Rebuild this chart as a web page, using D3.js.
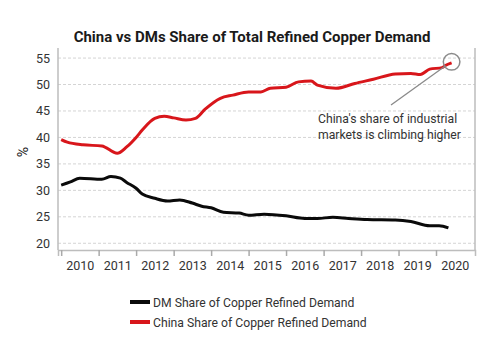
<!DOCTYPE html>
<html>
<head>
<meta charset="utf-8">
<script src="https://cdn.jsdelivr.net/npm/d3@7"></script>
<style>
  html, body { margin: 0; padding: 0; background: #fff; }
  svg { display: block; font-family: Roboto, "Noto Sans", sans-serif; }
</style>
</head>
<body>
<svg id="chart" width="500" height="343"></svg>
<script>
// ---- Data ----
const chinaDates = ["2010-01","2010-03","2010-08","2011-02","2011-07","2011-10","2012-01","2012-03","2012-07","2012-10","2013-01","2013-05","2013-08","2013-11","2014-04","2014-08","2015-01","2015-05","2015-08","2016-01","2016-05","2016-09","2016-11","2017-05","2017-11","2018-05","2018-12","2019-05","2019-08","2019-11","2020-03","2020-04","2020-06"];
const chinaValues = [39.6,39.1,38.6,38.4,37.0,38.2,40.0,41.4,43.6,44.0,43.7,43.3,43.6,45.3,47.4,48.0,48.6,48.6,49.3,49.5,50.5,50.65,49.9,49.3,50.2,51.0,52.0,52.1,51.9,52.9,53.2,53.6,54.1];

const dmDates = ["2010-01","2010-04","2010-07","2011-02","2011-05","2011-08","2011-10","2012-01","2012-03","2012-07","2012-11","2013-03","2013-07","2013-10","2014-01","2014-05","2014-10","2015-01","2015-06","2016-01","2016-07","2016-11","2017-04","2017-09","2018-03","2018-12","2019-05","2019-11","2020-02","2020-05"];
const dmValues = [31.0,31.6,32.3,32.1,32.6,32.3,31.5,30.4,29.3,28.5,28.0,28.2,27.6,27.0,26.7,25.85,25.7,25.3,25.5,25.2,24.7,24.7,24.9,24.7,24.5,24.4,24.1,23.3,23.3,22.9];

const yTicks = [20, 25, 30, 35, 40, 45, 50, 55];
const yearLabels = [2010, 2011, 2012, 2013, 2014, 2015, 2016, 2017, 2018, 2019, 2020];

const title = "China vs DMs Share of Total Refined Copper Demand";
const yLabel = "%";
const seriesNames = ["DM Share of Copper Refined Demand", "China Share of Copper Refined Demand"];
const annotationLines = ["China's share of industrial", "markets is climbing higher"];

// ---- Build ----
const parse = d3.timeParse("%Y-%m");
const china = chinaDates.map((d, i) => ({ date: parse(d), value: chinaValues[i] }));
const dm = dmDates.map((d, i) => ({ date: parse(d), value: dmValues[i] }));

const svg = d3.select("#chart");
const pLeft = 58, pRight = 475, pTop = 48, pBottom = 250;

const x = d3.scaleTime()
  .domain([new Date(2009, 11, 1), new Date(2021, 0, 15)])
  .range([pLeft, pRight]);
const y = d3.scaleLinear().domain([18.73, 56.9]).range([pBottom, pTop]);

// Title
svg.append("text")
  .attr("x", 252).attr("y", 41.5)
  .attr("text-anchor", "middle")
  .attr("font-size", 15).attr("font-weight", 700)
  .attr("fill", "#1a1a1a")
  .text(title);

// Gridlines
svg.append("g").selectAll("line").data(yTicks).join("line")
  .attr("x1", pLeft).attr("x2", pRight)
  .attr("y1", d => y(d)).attr("y2", d => y(d))
  .attr("stroke", "#d4d4d4").attr("stroke-width", 1)
  .attr("stroke-dasharray", "3,2");

// Y axis labels
const yAxis = svg.append("g")
  .attr("transform", `translate(${pLeft},0)`)
  .call(d3.axisLeft(y).tickValues(yTicks).tickSize(0).tickPadding(8));
yAxis.select(".domain").remove();
yAxis.selectAll("text").attr("font-size", 12.5).attr("fill", "#333")
  .attr("font-family", "Roboto, 'Noto Sans', sans-serif");

// Frame lines: left, right
svg.append("line").attr("x1", pLeft).attr("x2", pLeft).attr("y1", pTop).attr("y2", pBottom)
  .attr("stroke", "#bdbdbd").attr("stroke-width", 1.5);
svg.append("line").attr("x1", pRight).attr("x2", pRight).attr("y1", pTop).attr("y2", pBottom)
  .attr("stroke", "#bdbdbd").attr("stroke-width", 1.5);

// X axis: tick marks at year starts, labels at mid-year
const xAxisTicks = svg.append("g")
  .attr("transform", `translate(0,${pBottom})`)
  .call(d3.axisBottom(x)
    .tickValues(yearLabels.map(yr => new Date(yr, 0, 1)))
    .tickSize(6).tickFormat(""));
xAxisTicks.select(".domain").attr("stroke", "#bdbdbd").attr("stroke-width", 1.5);
xAxisTicks.selectAll(".tick line").attr("stroke", "#aaa").attr("stroke-width", 1.5);

const xAxisLabels = svg.append("g")
  .attr("transform", `translate(0,${pBottom})`)
  .call(d3.axisBottom(x)
    .tickValues(yearLabels.map(yr => new Date(yr, 6, 1)))
    .tickSize(0).tickPadding(11)
    .tickFormat(d3.timeFormat("%Y")));
xAxisLabels.select(".domain").remove();
xAxisLabels.selectAll("text").attr("font-size", 12.5).attr("fill", "#333")
  .attr("font-family", "Roboto, 'Noto Sans', sans-serif");

// Y label
svg.append("text")
  .attr("transform", "translate(28,152) rotate(-90)")
  .attr("text-anchor", "middle")
  .attr("font-size", 14).attr("fill", "#222")
  .text(yLabel);

// Lines
const line = d3.line().x(d => x(d.date)).y(d => y(d.value)).curve(d3.curveMonotoneX);
svg.append("path").datum(dm)
  .attr("d", line).attr("fill", "none")
  .attr("stroke", "#0a0a0a").attr("stroke-width", 3).attr("stroke-linejoin", "round");
svg.append("path").datum(china)
  .attr("d", line).attr("fill", "none")
  .attr("stroke", "#d8161b").attr("stroke-width", 3).attr("stroke-linejoin", "round");

// Annotation
const last = china[china.length - 1];
const cx = x(last.date), cy = y(last.value);
svg.append("circle").attr("cx", cx).attr("cy", cy - 1).attr("r", 8.3)
  .attr("fill", "none").attr("stroke", "#8a8a8a").attr("stroke-width", 1.5);
svg.append("line")
  .attr("x1", cx - 6).attr("y1", cy + 3)
  .attr("x2", 391).attr("y2", 105)
  .attr("stroke", "#8a8a8a").attr("stroke-width", 1.3);
svg.append("g").selectAll("text").data(annotationLines).join("text")
  .attr("x", 318).attr("y", (d, i) => 123 + i * 15.5)
  .attr("font-size", 12.2).attr("fill", "#333")
  .text(d => d);

// Legend
const legendColors = ["#0a0a0a", "#d8161b"];
const lg = svg.append("g");
seriesNames.forEach((name, i) => {
  const yy = 302 + i * 20;
  lg.append("line").attr("x1", 130).attr("x2", 150).attr("y1", yy).attr("y2", yy)
    .attr("stroke", legendColors[i]).attr("stroke-width", 4);
  lg.append("text").attr("x", 153).attr("y", yy + 4.5)
    .attr("font-size", 12.2).attr("fill", "#333").text(name);
});
</script>
</body>
</html>
